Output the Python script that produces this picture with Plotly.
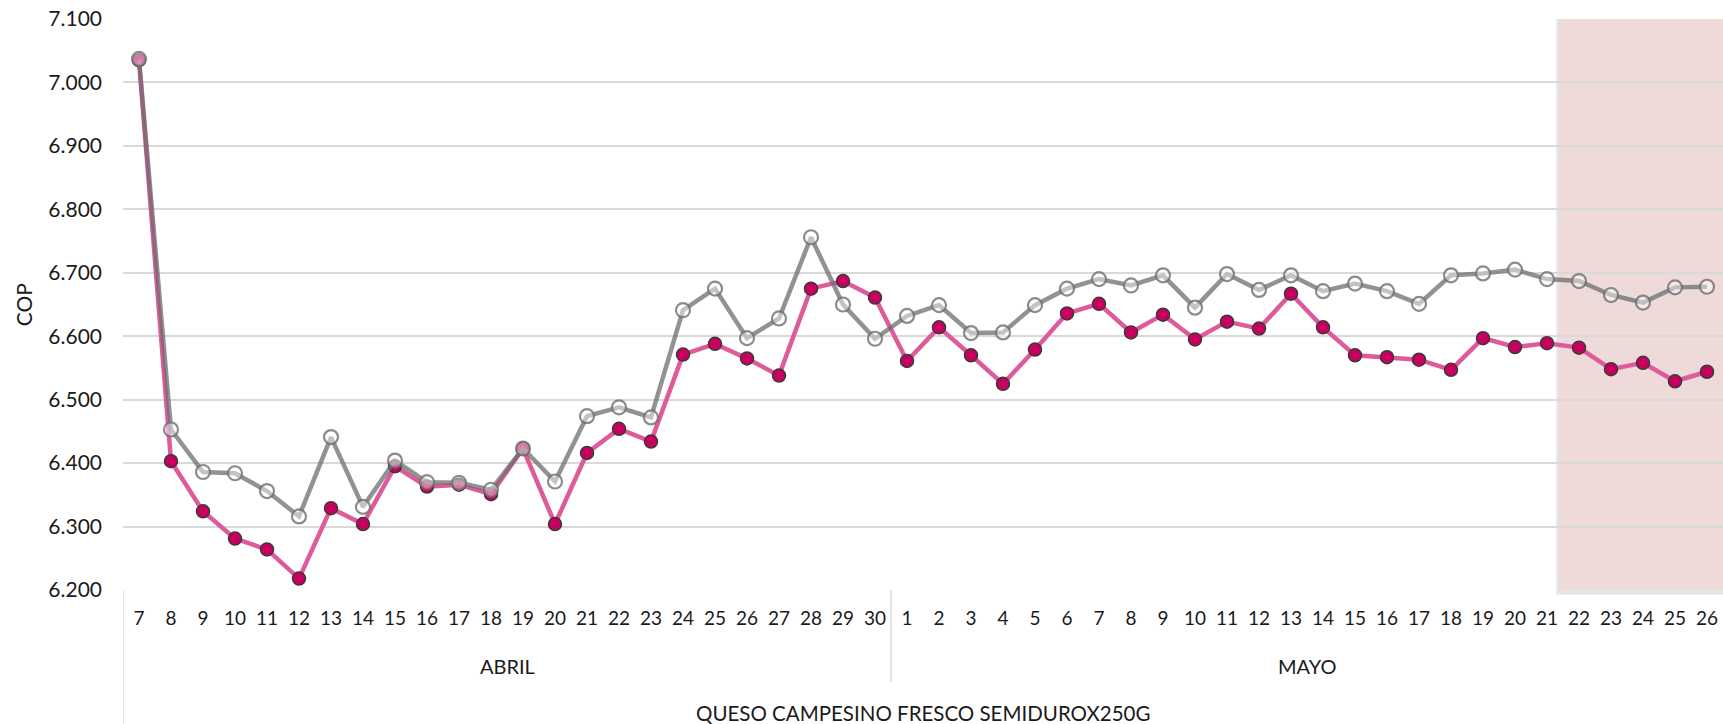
import plotly.graph_objects as go

# ---------------- data ----------------
months = ["ABRIL", "MAYO"]
abril_days = list(range(7, 31))
mayo_days = list(range(1, 27))
product = "QUESO CAMPESINO FRESCO SEMIDUROX250G"

serie_rosa_abril = [7035, 6403, 6324, 6281, 6264, 6218, 6329, 6304, 6395, 6363, 6366, 6351,
                    6423, 6304, 6416, 6454, 6434, 6571, 6588, 6565, 6538, 6675, 6687, 6661]
serie_rosa_mayo = [6561, 6614, 6570, 6525, 6579, 6636, 6651, 6606, 6634, 6595, 6623, 6612, 6667,
                   6614, 6570, 6567, 6563, 6547, 6597, 6583, 6589, 6582, 6548, 6558, 6529, 6544]

serie_gris_abril = [7037, 6453, 6386, 6384, 6356, 6316, 6441, 6331, 6404, 6370, 6369, 6358,
                    6423, 6371, 6474, 6488, 6472, 6641, 6675, 6597, 6628, 6756, 6650, 6596]
serie_gris_mayo = [6632, 6649, 6605, 6606, 6649, 6675, 6690, 6680, 6696, 6645, 6698, 6673, 6696,
                   6671, 6683, 6671, 6651, 6696, 6699, 6705, 6690, 6687, 6665, 6653, 6677, 6678]

y_min, y_max, y_step = 6200, 7100, 100

# ---------------- build ----------------
cats = [f"{d}-{months[0]}" for d in abril_days] + [f"{d}-{months[1]}" for d in mayo_days]
day_labels = [str(d) for d in abril_days] + [str(d) for d in mayo_days]
rosa = serie_rosa_abril + serie_rosa_mayo
gris = serie_gris_abril + serie_gris_mayo

n_abr = len(abril_days)
n_all = len(cats)

FONT = "Lato, 'Open Sans', sans-serif"
TXT = "#1a1a1a"

fig = go.Figure()
fig.add_trace(go.Scatter(
    x=cats, y=rosa, mode="lines+markers", showlegend=False,
    line=dict(color="#DE5A9B", width=4.5),
    marker=dict(size=13, color="#C8005F", line=dict(color="#3a3a3a", width=1.5)),
))
fig.add_trace(go.Scatter(
    x=cats, y=gris, mode="lines+markers", showlegend=False,
    line=dict(color="rgba(110,110,110,0.75)", width=4.5),
    marker=dict(size=14, color="rgba(255,255,255,0.45)",
                line=dict(color="rgba(110,110,110,0.8)", width=2.2)),
))

shade_x0 = n_all - 5 - 0.63  # just before the 22nd of May
shapes = [
    # shadow of highlight box
    dict(type="rect", xref="x", yref="paper", x0=shade_x0 - 0.08, x1=n_all - 0.5 + 1,
         y0=-0.008, y1=1, fillcolor="rgba(0,0,0,0.10)", line=dict(width=0), layer="below"),
    dict(type="rect", xref="x", yref="paper", x0=shade_x0, x1=n_all - 0.5 + 1,
         y0=0, y1=1, fillcolor="#EFDADA", line=dict(width=0), layer="below"),
    # category dividers
    dict(type="line", xref="x", yref="paper", x0=-0.5, x1=-0.5, y0=0, y1=-0.24,
         line=dict(color="#D9D9D9", width=1.5)),
    dict(type="line", xref="x", yref="paper", x0=n_abr - 0.5, x1=n_abr - 0.5, y0=0, y1=-0.161,
         line=dict(color="#D9D9D9", width=1.5)),
]

annotations = [
    dict(text=months[0], xref="x", yref="paper", x=(n_abr - 1) / 2, y=-0.133,
         showarrow=False, font=dict(size=20, color=TXT, family=FONT), yanchor="middle"),
    dict(text=months[1], xref="x", yref="paper", x=n_abr + (len(mayo_days) - 1) / 2, y=-0.133,
         showarrow=False, font=dict(size=20, color=TXT, family=FONT), yanchor="middle"),
    dict(text=product, xref="x", yref="paper", x=(n_all - 1) / 2, y=-0.215,
         showarrow=False, font=dict(size=20.5, color=TXT, family=FONT), yanchor="middle"),
    dict(text="COP", xref="paper", yref="paper", x=-0.062, y=0.5, textangle=-90,
         showarrow=False, font=dict(size=21, color=TXT, family=FONT),
         xanchor="center", yanchor="middle"),
]

fig.update_layout(
    width=1723, height=724,
    margin=dict(l=123, r=0, t=19, b=134),
    paper_bgcolor="white", plot_bgcolor="white",
    separators=",.",
    font=dict(family=FONT, color=TXT),
    shapes=shapes, annotations=annotations,
    xaxis=dict(
        type="category", categoryorder="array", categoryarray=cats,
        range=[-0.5, n_all - 0.5],
        tickmode="array", tickvals=cats, ticktext=day_labels,
        tickfont=dict(size=19, color=TXT, family=FONT),
        showgrid=False, zeroline=False, showline=False, ticks="",
        ticklabelstandoff=15,
    ),
    yaxis=dict(
        range=[y_min, y_max], dtick=y_step, tick0=y_min, tickformat=",d",
        tickfont=dict(size=21, color=TXT, family=FONT),
        showgrid=True, gridcolor="#D9D9D9", gridwidth=1.5,
        zeroline=False, showline=False, ticks="",
        ticklabelstandoff=20,
    ),
)

fig.write_html(
    "out.html",
    config={"displayModeBar": False},
    post_script="document.body.style.margin='0';document.body.style.overflow='hidden';",
)
